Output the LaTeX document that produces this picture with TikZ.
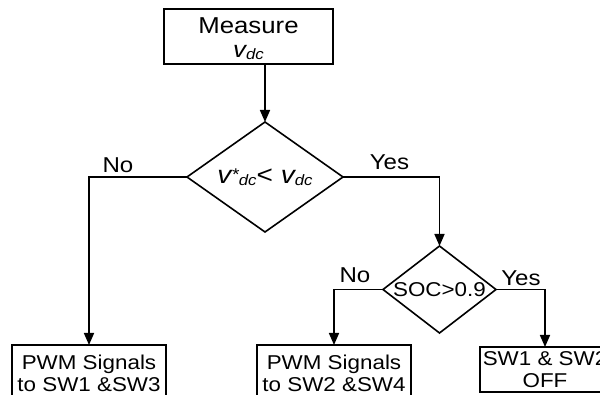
\documentclass[tikz,border=0pt]{standalone}
\usepackage{fontspec}
\setmainfont[FakeStretch=1.12]{Liberation Sans}
\usetikzlibrary{shapes.geometric,arrows.meta}
\newcommand\mysub[1]{\raisebox{-1.5pt}{\fontsize{15}{15}\selectfont #1}}
\newcommand\mystar{\raisebox{3pt}{\fontsize{17}{17}\selectfont *}}
\begin{document}
\begin{tikzpicture}[x=1pt,y=-1pt,line width=1.6pt,
  font=\fontsize{20}{22}\selectfont,
  box/.style={draw,rectangle,inner sep=0pt,outer sep=0pt,align=center},
  dia/.style={draw,diamond,inner sep=0pt,outer sep=0pt,align=center},
  arr/.style={-{Triangle[length=12pt,width=10pt]}},
  lbl/.style={inner sep=0pt,font=\fontsize{21.5}{22}\selectfont}]
\useasboundingbox (0,0) rectangle (600,395);
\clip (0,0) rectangle (600,395);
\fill[white] (0,0) rectangle (600,395);
% nodes
\node[box,minimum width=169pt,minimum height=55pt,
  font=\fontsize{23}{24.5}\selectfont] (meas) at (248.5,36.5)
  {\rule{0pt}{20pt}Measure\\{\itshape v\mysub{dc}}};
\node[dia,minimum width=156pt,minimum height=110pt,aspect=1.42,
  font=\fontsize{25}{26}\selectfont] (d1) at (265,177)
  {{\itshape v\mystar\mysub{dc}}< {\itshape v\mysub{dc}}};
\node[dia,minimum width=113pt,minimum height=87pt,aspect=1.3] (d2) at (439.5,289.5)
  {SOC>0.9};
\node[box,minimum width=154pt,minimum height=56pt] (b1) at (89,373)
  {PWM Signals\\to SW1 \&SW3};
\node[box,minimum width=154pt,minimum height=56pt] (b2) at (334,373)
  {PWM Signals\\to SW2 \&SW4};
\node[box,minimum width=130pt,minimum height=45pt] (b3) at (545,369.5)
  {SW1 \& SW2\\OFF};
% connectors
\draw[arr] (meas.south -| d1.north) -- (d1.north);
\draw[arr] (d1.west) -| (b1.north);
\draw[arr] (d1.east) -| (d2.north);
\draw[arr] (d2.west) -| (b2.north);
\draw[arr] (d2.east) -| (b3.north);
% labels
\node[lbl] (no1) at (118,165) {No};
\node[lbl] (yes1) at (389.5,162.5) {Yes};
\node[lbl] (no2) at (355,275.5) {No};
\node[lbl] (yes2) at (521,278.5) {Yes};
\end{tikzpicture}
\end{document}
